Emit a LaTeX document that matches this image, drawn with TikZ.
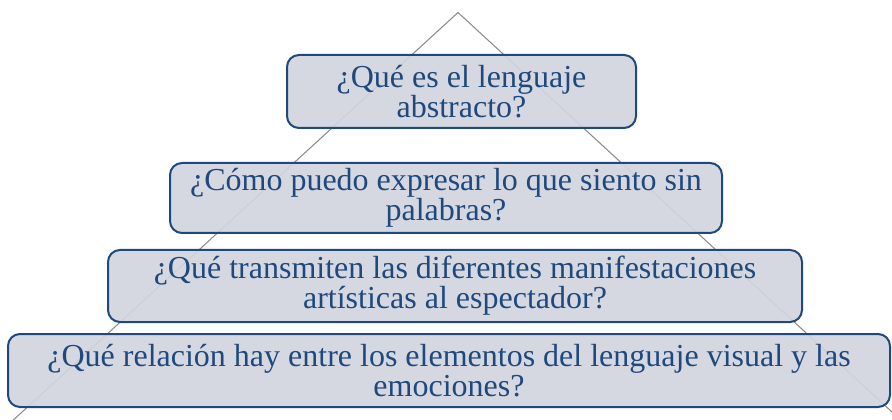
\documentclass[tikz,border=0pt]{standalone}
\usepackage{fontspec}
\setmainfont{Liberation Serif}
\usepackage{tikz}
\definecolor{azul}{HTML}{1F497D}
\definecolor{gris}{HTML}{D1D5DE}

\tikzstyle{caja} = [draw=azul, line width=1.5pt, rounded corners=9pt, fill=gris,
  fill opacity=0.92, text opacity=1, text=azul, align=center, inner sep=0pt,
  font=\fontsize{24}{22.5}\selectfont]

\begin{document}
\begin{tikzpicture}[x=0.75pt,y=-0.75pt]
			\useasboundingbox (0,0) rectangle (892,420);
			\coordinate (cima) at (458,12.5);
			\coordinate (izq) at (9,424);
			\coordinate (der) at (892,412);
			\draw[gray!90, line width=0.8pt] (izq) -- (cima) -- (der);
			
			\node[caja, minimum width=261.75pt, minimum height=54.75pt] (p1) at (461.5,91.5)
			  {¿Qué es el lenguaje\\abstracto?};
			\node[caja, minimum width=414pt, minimum height=52.5pt] (p2) at (446,198)
			  {¿Cómo puedo expresar lo que siento sin\\palabras?};
			\node[caja, minimum width=520.5pt, minimum height=54pt] (p3) at (455,286)
			  {¿Qué transmiten las diferentes manifestaciones\\artísticas al espectador?};
			\node[caja, minimum width=661.5pt, minimum height=54.75pt] (p4) at (449,370.5)
			  {¿Qué relación hay entre los elementos del lenguaje visual y las\\emociones?};
			\end{tikzpicture}
\end{document}
